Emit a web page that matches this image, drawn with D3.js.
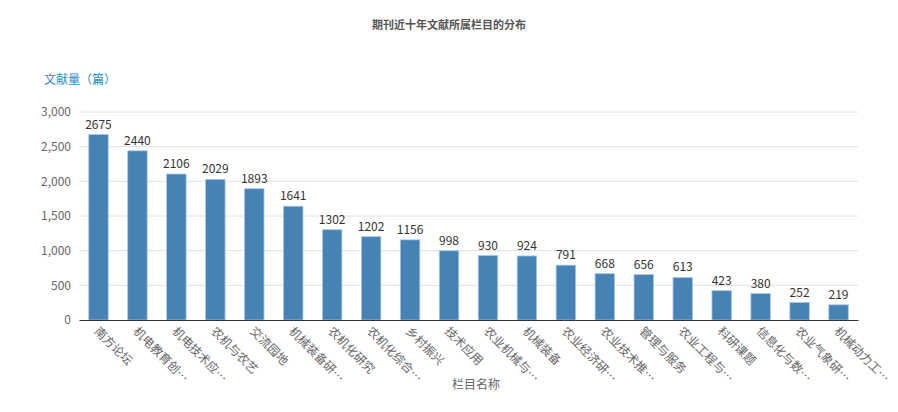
<!DOCTYPE html>
<html>
<head>
<meta charset="utf-8">
<script src="https://cdn.jsdelivr.net/npm/d3@7"></script>
<style>
  body { margin: 0; background: #fff; }
  text { font-family: "Microsoft YaHei", "Noto Sans CJK SC", sans-serif; }
</style>
</head>
<body>
<div id="chart-area"></div>
<script>
// data
var categories = ['南方论坛', '机电教育创…', '机电技术应…', '农机与农艺', '交流园地', '机械装备研…',
  '农机化研究', '农机化综合…', '乡村振兴', '技术应用', '农业机械与…', '机械装备', '农业经济研…',
  '农业技术推…', '管理与服务', '农业工程与…', '科研课题', '信息化与数…', '农业气象研…', '机械动力工…'];
var counts = [2675, 2440, 2106, 2029, 1893, 1641, 1302, 1202, 1156, 998, 930, 924, 791,
  668, 656, 613, 423, 380, 252, 219];
var yTicks = [0, 500, 1000, 1500, 2000, 2500, 3000];

var data = categories.map(function (c, i) {
  return {name: c, value: counts[i]};
});

var W = 898, H = 412;
var margin = {left: 79, right: 40, top: 112, bottom: 92};
var width = W - margin.left - margin.right;
var height = H - margin.top - margin.bottom;

var svg = d3.select('#chart-area')
  .append('svg')
  .attr('width', W)
  .attr('height', H);

// title
svg.append('text')
  .attr('x', W / 2)
  .attr('y', 29)
  .attr('text-anchor', 'middle')
  .attr('font-size', '11px')
  .attr('font-weight', 'bold')
  .attr('fill', '#555')
  .text('期刊近十年文献所属栏目的分布');

// y name
svg.append('text')
  .attr('x', 44)
  .attr('y', 84)
  .attr('font-size', '12px')
  .attr('fill', '#2a8bbf')
  .text('文献量（篇）');

var g = svg.append('g')
  .attr('transform', 'translate(' + margin.left + ', ' + margin.top + ')');

var x = d3.scaleBand()
  .domain(categories)
  .range([0, width])
  .paddingInner(0.5)
  .paddingOuter(0.25);

var y = d3.scaleLinear()
  .domain([0, 3000])
  .range([height, 0]);

// grid
g.selectAll('.grid')
  .data(yTicks.slice(1))
  .enter()
  .append('line')
  .attr('class', 'grid')
  .attr('x1', 0)
  .attr('x2', width)
  .attr('y1', function (d) { return y(d); })
  .attr('y2', function (d) { return y(d); })
  .attr('stroke', '#e0e0e0')
  .attr('stroke-width', 1);

// y axis
var yAxisCall = d3.axisLeft(y)
  .tickValues(yTicks)
  .tickSize(0)
  .tickPadding(8)
  .tickFormat(d3.format(','));
var yAxis = g.append('g')
  .attr('class', 'y-axis')
  .call(yAxisCall);
yAxis.select('.domain').remove();
yAxis.selectAll('text')
  .attr('font-size', '12px')
  .attr('fill', '#666');

// bars
g.selectAll('rect')
  .data(data)
  .enter()
  .append('rect')
  .attr('x', function (d) { return x(d.name); })
  .attr('y', function (d) { return y(d.value); })
  .attr('width', x.bandwidth())
  .attr('height', function (d) { return height - y(d.value); })
  .attr('fill', '#4682b4')
  .attr('stroke', '#a8c8e4')
  .attr('stroke-width', 0.8);

// value labels
g.selectAll('.val')
  .data(data)
  .enter()
  .append('text')
  .attr('class', 'val')
  .attr('x', function (d) { return x(d.name) + x.bandwidth() / 2; })
  .attr('y', function (d) { return y(d.value) - 6; })
  .attr('text-anchor', 'middle')
  .attr('font-size', '12px')
  .attr('fill', '#333')
  .text(function (d) { return d.value; });

// x axis
var xAxisCall = d3.axisBottom(x).tickSize(0).tickPadding(0);
var xAxis = g.append('g')
  .attr('class', 'x-axis')
  .attr('transform', 'translate(0, ' + height + ')')
  .call(xAxisCall);
xAxis.select('.domain')
  .attr('stroke', '#333')
  .attr('stroke-width', 1);
xAxis.selectAll('text')
  .attr('font-size', '12px')
  .attr('fill', '#666')
  .attr('text-anchor', 'start')
  .attr('x', 0)
  .attr('y', 0)
  .attr('dy', '0.35em')
  .attr('transform', 'translate(-2, 9) rotate(45)');

// x name
svg.append('text')
  .attr('x', 476)
  .attr('y', 389)
  .attr('text-anchor', 'middle')
  .attr('font-size', '12px')
  .attr('fill', '#666')
  .text('栏目名称');
</script>
</body>
</html>
